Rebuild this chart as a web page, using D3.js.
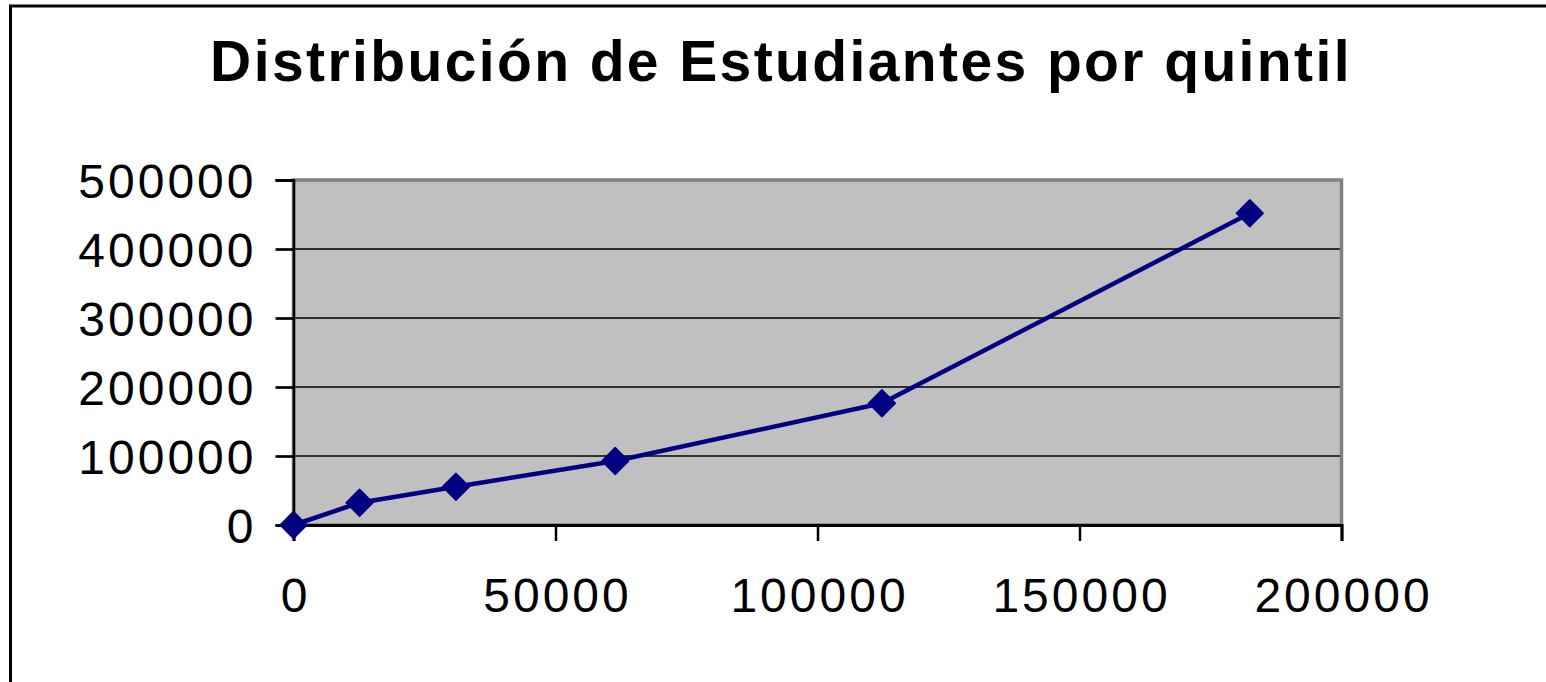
<!DOCTYPE html>
<html>
<head>
<meta charset="utf-8">
<script src="https://cdn.jsdelivr.net/npm/d3@7"></script>
<style>
html,body{margin:0;padding:0;background:#fff;overflow:hidden;}
svg{display:block;}
</style>
</head>
<body>
<svg id="chart" width="1546" height="682"></svg>
<script>
const title = "Distribución de Estudiantes por quintil";
const xValues = [0, 12600, 31000, 61400, 112300, 182500];
const yValues = [0, 32300, 55500, 92800, 176400, 451700];
const xTicks = [0, 50000, 100000, 150000, 200000];
const yTicks = [0, 100000, 200000, 300000, 400000, 500000];

const W = 1546, H = 682;
const pLeft = 293.5, pRight = 1341.5, pTop = 180, pBottom = 525;
const svg = d3.select("#chart");
const font = "'Liberation Sans', Arial, sans-serif";

// outer chart border
svg.append("path").attr("d", `M10.5,${H+5} L10.5,6 L${W+5},6`)
  .attr("fill", "none").attr("stroke", "#000").attr("stroke-width", 3);

// title
svg.append("text").attr("x", 781).attr("y", 81)
  .attr("text-anchor", "middle").attr("font-family", font)
  .attr("font-weight", "bold").attr("font-size", 57).attr("letter-spacing", 2.4)
  .attr("fill", "#000")
  .text(title);

const x = d3.scaleLinear().domain([0, 200000]).range([pLeft, pRight]);
const y = d3.scaleLinear().domain([0, 500000]).range([pBottom, pTop]);

// plot area
svg.append("rect").attr("x", pLeft).attr("y", pTop)
  .attr("width", pRight - pLeft).attr("height", pBottom - pTop)
  .attr("fill", "#C0C0C0");

// gridlines
svg.append("g").selectAll("line").data(yTicks.filter(d => d > 0 && d < 500000)).join("line")
  .attr("x1", pLeft).attr("x2", pRight)
  .attr("y1", d => y(d)).attr("y2", d => y(d))
  .attr("stroke", "#000").attr("stroke-width", 1.3);

// plot border (gray)
svg.append("rect").attr("x", pLeft).attr("y", pTop)
  .attr("width", pRight - pLeft).attr("height", pBottom - pTop)
  .attr("fill", "none").attr("stroke", "#808080").attr("stroke-width", 3.5);

// y axis
const yAxis = svg.append("g").attr("transform", `translate(${pLeft},0)`)
  .call(d3.axisLeft(y).tickValues(yTicks).tickSize(18).tickPadding(19).tickFormat(d3.format("d")));
yAxis.select(".domain").attr("stroke", "#000").attr("stroke-width", 2.5);
yAxis.selectAll(".tick line").attr("stroke", "#000").attr("stroke-width", 2.7);
yAxis.selectAll(".tick text").attr("font-family", font).attr("font-size", 48)
  .attr("letter-spacing", 3).attr("fill", "#000").attr("dy", "0.36em");

// x axis
const xAxis = svg.append("g").attr("transform", `translate(0,${pBottom})`)
  .call(d3.axisBottom(x).tickValues(xTicks).tickSize(16).tickPadding(37).tickFormat(d3.format("d")));
xAxis.select(".domain").attr("stroke", "#000").attr("stroke-width", 3);
xAxis.selectAll(".tick line").attr("stroke", "#000").attr("stroke-width", 2.5);
xAxis.selectAll(".tick text").attr("font-family", font).attr("font-size", 48)
  .attr("letter-spacing", 3).attr("fill", "#000").attr("dy", "0.71em")
  .attr("dx", 1.5);

// series
const pts = xValues.map((v, i) => [v, yValues[i]]);
svg.append("path").datum(pts)
  .attr("d", d3.line().x(d => x(d[0])).y(d => y(d[1])))
  .attr("fill", "none").attr("stroke", "#000080").attr("stroke-width", 4.5)
  .attr("stroke-linejoin", "round");

const sym = d3.symbol().type(d3.symbolSquare).size(19 * 19);
svg.append("g").selectAll("path").data(pts).join("path")
  .attr("d", sym)
  .attr("transform", d => `translate(${x(d[0])},${y(d[1])}) rotate(45)`)
  .attr("fill", "#000080").attr("stroke", "#000080").attr("stroke-width", 1.5)
  .attr("stroke-linejoin", "round");
</script>
</body>
</html>
